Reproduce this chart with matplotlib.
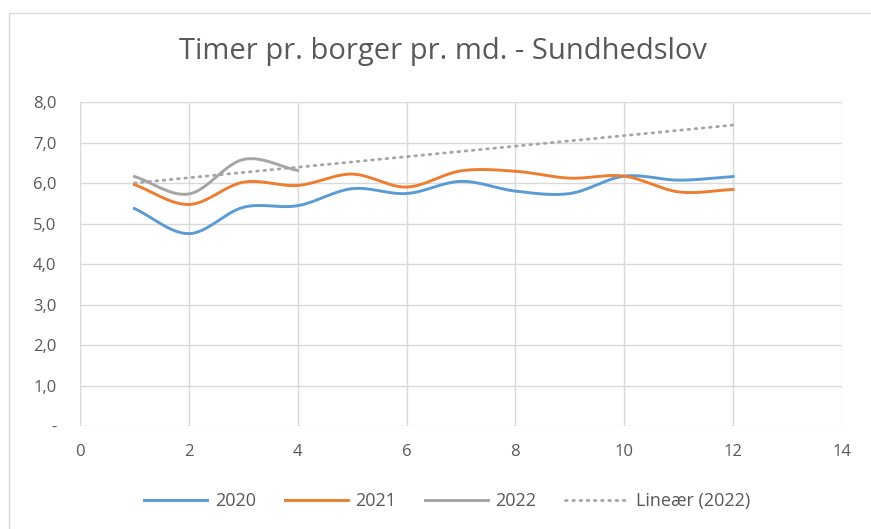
# timer pr. borger pr. md. - excel style smooth lines

import numpy as np
import matplotlib.pyplot as plt
from matplotlib.patches import Rectangle

months = [1, 2, 3, 4, 5, 6, 7, 8, 9, 10, 11, 12]
y2020 = [5.37, 4.75, 5.40, 5.44, 5.86, 5.74, 6.04, 5.80, 5.74, 6.17, 6.07, 6.16]
y2021 = [5.96, 5.47, 6.02, 5.94, 6.22, 5.90, 6.30, 6.29, 6.12, 6.17, 5.78, 5.84]
months22 = [1, 2, 3, 4]
y2022 = [6.16, 5.73, 6.58, 6.31]

yticks = [0, 1, 2, 3, 4, 5, 6, 7, 8]
ylabels = ['-', '1,0', '2,0', '3,0', '4,0', '5,0', '6,0', '7,0', '8,0']
xticks = [0, 2, 4, 6, 8, 10, 12, 14]

# catmull-rom, roughly what excel does for "smoothed line"
def smooth(x, y, n=30):
    x = np.asarray(x, float); y = np.asarray(y, float)
    px = np.r_[2*x[0]-x[1], x, 2*x[-1]-x[-2]]
    py = np.r_[2*y[0]-y[1], y, 2*y[-1]-y[-2]]
    xs, ys = [], []
    t = np.linspace(0, 1, n, endpoint=False)
    for i in range(1, len(px)-2):
        for p, out in ((px, xs), (py, ys)):
            p0, p1, p2, p3 = p[i-1], p[i], p[i+1], p[i+2]
            out.extend(0.5*((2*p1) + (-p0+p2)*t + (2*p0-5*p1+4*p2-p3)*t**2
                            + (-p0+3*p1-3*p2+p3)*t**3))
    xs.append(x[-1]); ys.append(y[-1])
    return np.array(xs), np.array(ys)

plt.rcParams['font.family'] = ['Open Sans', 'DejaVu Sans']

fig = plt.figure(figsize=(8.71, 5.29), dpi=100)
fig.patches.append(Rectangle((9/871, -0.1), 1.2, 1-13/529+0.1, transform=fig.transFigure,
                             fill=False, edgecolor='#d9d9d9', lw=1))
ax = fig.add_axes([80/871, 1-426/529, 762/871, 324/529])

ax.plot(*smooth(months, y2020), color='#5b9bd5', lw=2.1, label='2020')
ax.plot(*smooth(months, y2021), color='#ed7d31', lw=2.1, label='2021')
ax.plot(*smooth(months22, y2022), color='#a5a5a5', lw=2.1, label='2022')

k, b = np.polyfit(months22, y2022, 1)
tx = np.array([months[0], months[-1]])
ax.plot(tx, k*tx + b, color='#a5a5a5', lw=2, linestyle=(0, (0.6, 2.0)),
        dash_capstyle='round', label='Lineær (2022)')

ax.set_xlim(0, 14)
ax.set_ylim(0, 8)
ax.set_xticks(xticks)
ax.set_yticks(yticks)
ax.set_yticklabels(ylabels)
ax.grid(True, color='#d9d9d9', lw=1)
ax.set_axisbelow(True)
for s in ax.spines.values():
    s.set_visible(False)
ax.tick_params(length=0, labelsize=12, colors='#595959')
ax.tick_params(axis='x', pad=13)
ax.tick_params(axis='y', pad=17)

fig.text(0.508, 1-52/529, 'Timer pr. borger pr. md. - Sundhedslov', ha='center', va='center',
         fontsize=21, color='#595959')

fig.legend(loc='center', bbox_to_anchor=(447/871, 1-501/529), ncol=4, frameon=False,
           fontsize=13, labelcolor='#595959', handlelength=3.5, columnspacing=1.6,
           handletextpad=0.4)

fig.savefig('out.png', dpi=100)
